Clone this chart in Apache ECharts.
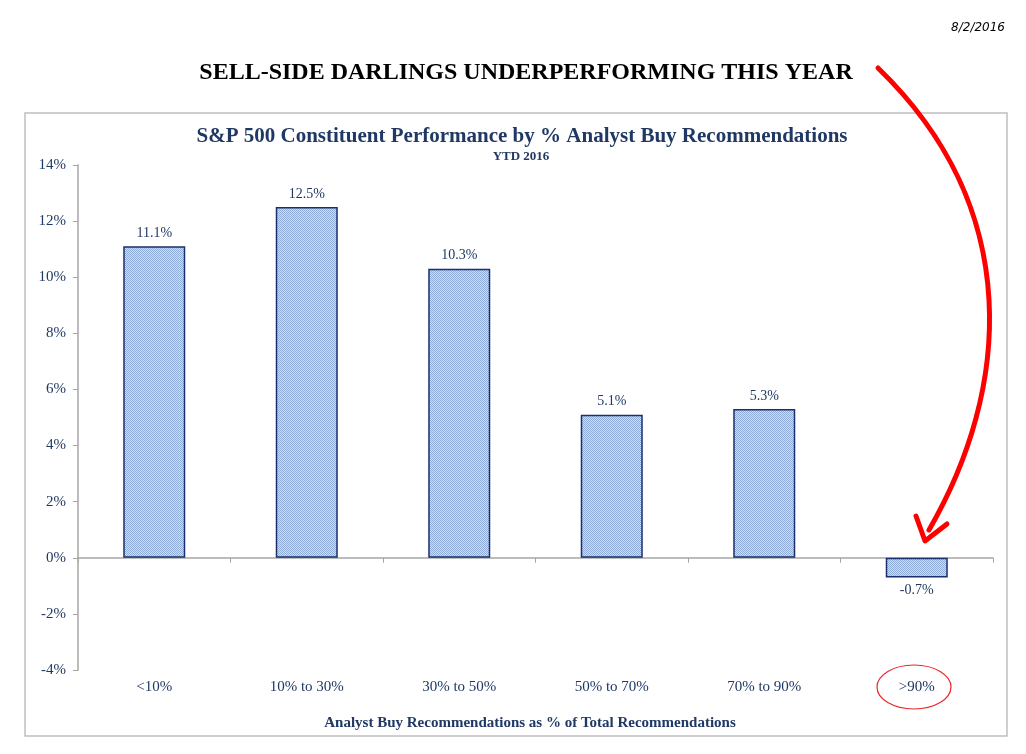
<!DOCTYPE html>
<html><head><meta charset="utf-8">
<script src="https://cdn.jsdelivr.net/npm/echarts@6/dist/echarts.min.js"></script>
<style>html,body{margin:0;padding:0;background:#fff;}#c{width:1026px;height:754px;}</style>
</head><body><div id="c"></div>
<script>
const categories = ['<10%', '10% to 30%', '30% to 50%', '50% to 70%', '70% to 90%', '>90%'];
const values = [11.1, 12.5, 10.3, 5.1, 5.3, -0.7];
const yTicks = { min: -4, max: 14, interval: 2 };

const navy = '#1f3864';
const serif = '"Liberation Serif", "DejaVu Serif", serif';

// dotted fill pattern
const pc = document.createElement('canvas');
pc.width = 2; pc.height = 2;
const px = pc.getContext('2d');
px.fillStyle = '#d0ddf2'; px.fillRect(0, 0, 2, 2);
px.fillStyle = '#8eabd9'; px.fillRect(0, 0, 1, 1); px.fillRect(1, 1, 1, 1);

const chart = echarts.init(document.getElementById('c'), null, { renderer: 'canvas' });
chart.setOption({
  backgroundColor: '#fff',
  animation: false,
  title: [
    { text: 'SELL-SIDE DARLINGS UNDERPERFORMING THIS YEAR', left: 521, top: 56, textAlign: 'center',
      textStyle: { fontFamily: serif, fontWeight: 'bold', fontSize: 24, color: '#000' } },
    { text: 'S&P 500 Constituent Performance by % Analyst Buy Recommendations', left: 517, top: 121, textAlign: 'center',
      textStyle: { fontFamily: serif, fontWeight: 'bold', fontSize: 21, color: navy } },
    { text: 'YTD 2016', left: 516, top: 145, textAlign: 'center',
      textStyle: { fontFamily: serif, fontWeight: 'bold', fontSize: 13, color: navy } },
    { text: 'Analyst Buy Recommendations as % of Total Recommendations', left: 525, top: 711, textAlign: 'center',
      textStyle: { fontFamily: serif, fontWeight: 'bold', fontSize: 15, color: navy } },
    { text: '8/2/2016', right: 16, top: 17,
      textStyle: { fontFamily: '"DejaVu Sans", sans-serif', fontStyle: 'italic', fontWeight: 'normal', fontSize: 12, color: '#000' } }
  ],
  grid: { left: 78, right: 33, top: 165, bottom: 84 },
  xAxis: [
    { type: 'category', data: categories, boundaryGap: true,
      axisLine: { onZero: true, lineStyle: { color: '#a6a6a6', width: 1.5 } },
      axisTick: { show: true, length: 5, lineStyle: { color: '#a6a6a6' } },
      axisLabel: { show: false } },
    { type: 'category', data: categories, position: 'bottom',
      axisLine: { show: false, onZero: false }, axisTick: { show: false },
      axisLabel: { margin: 10, fontFamily: serif, fontSize: 15, color: navy } }
  ],
  yAxis: {
    type: 'value', min: yTicks.min, max: yTicks.max, interval: yTicks.interval,
    axisLine: { show: true, lineStyle: { color: '#a6a6a6', width: 1.5 } },
    axisTick: { show: true, length: 5, lineStyle: { color: '#a6a6a6' } },
    splitLine: { show: false },
    axisLabel: { formatter: '{value}%', margin: 12, fontFamily: serif, fontSize: 15, color: navy }
  },
  series: [{
    type: 'bar', xAxisIndex: 0, data: values.map(v => v < 0 ? { value: v, label: { position: 'bottom' } } : v), barWidth: 62,
    itemStyle: { color: { image: pc, repeat: 'repeat' }, borderColor: '#1a2f6b', borderWidth: 1.5 },
    label: { show: true, position: 'top', distance: 6, formatter: p => p.value.toFixed(1) + '%',
      fontFamily: serif, fontSize: 14, color: navy }
  }],
  graphic: [
    { type: 'rect', shape: { x: 25, y: 113, width: 982, height: 623 }, style: { fill: 'none', stroke: '#bfbfbf', lineWidth: 1.5 }, z: -1 },
    { type: 'ellipse', shape: { cx: 914, cy: 687, rx: 37, ry: 22 }, style: { fill: 'none', stroke: '#e8262a', lineWidth: 1.2 } },
    { type: 'bezierCurve', shape: { x1: 878, y1: 68, cpx1: 1025, cpy1: 210, cpx2: 1010, cpy2: 390, x2: 929, y2: 530 },
      style: { fill: 'none', stroke: '#ff0000', lineWidth: 5, lineCap: 'round' } },
    { type: 'polyline', shape: { points: [[916, 516], [925, 541], [947, 524]] },
      style: { fill: 'none', stroke: '#ff0000', lineWidth: 5, lineCap: 'round', lineJoin: 'round' } }
  ]
});
</script></body></html>
